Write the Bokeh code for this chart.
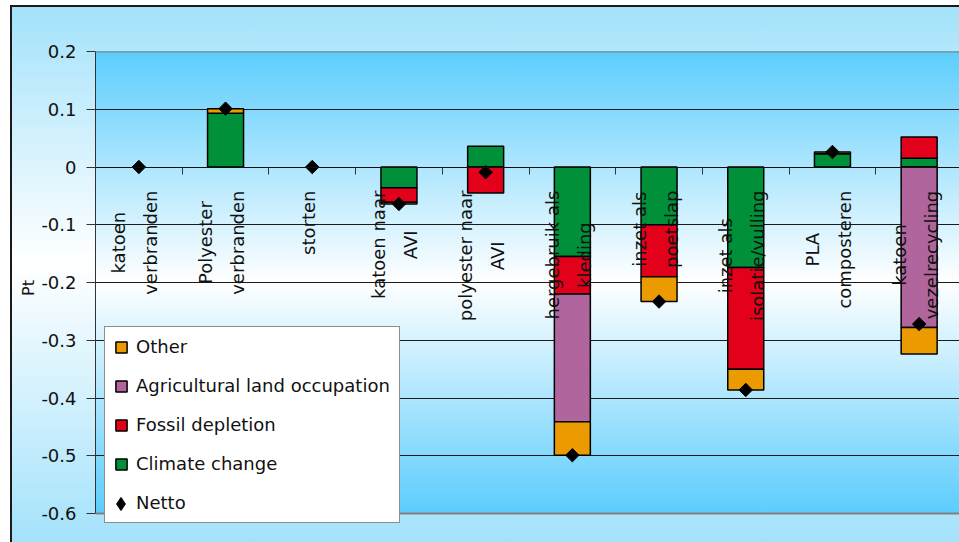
import math

from bokeh.core.properties import value
from bokeh.embed import file_html
from bokeh.models import ColumnDataSource, FixedTicker, Legend, LegendItem, Range1d, Span
from bokeh.plotting import figure
from bokeh.resources import INLINE

# ---------------------------------------------------------------------------
# Data (Pt per scenario, split by impact category)
# ---------------------------------------------------------------------------
categories = [
    "katoen\nverbranden",
    "Polyester\nverbranden",
    "storten",
    "katoen naar\nAVI",
    "polyester naar\nAVI",
    "hergebruik als\nkleding",
    "inzet als\npoetslap",
    "inzet als\nisolatie/vulling",
    "PLA\ncomposteren",
    "katoen\nvezelrecycling",
]

climate_change = [0.0, 0.093, 0.0, -0.036, 0.036, -0.155, -0.100, -0.174, 0.023, 0.015]
fossil_depletion = [0.0, 0.0, 0.0, -0.025, -0.045, -0.065, -0.090, -0.176, 0.0, 0.037]
agricultural_land_occupation = [0.0, 0.0, 0.0, 0.0, 0.0, -0.221, 0.0, 0.0, 0.0, -0.278]
other = [0.0, 0.008, 0.0, -0.003, 0.0, -0.058, -0.043, -0.036, 0.003, -0.046]
netto = [0.0, 0.101, 0.0, -0.064, -0.009, -0.499, -0.233, -0.386, 0.026, -0.272]

y_ticks = [-0.6, -0.5, -0.4, -0.3, -0.2, -0.1, 0.0, 0.1, 0.2]
y_tick_labels = ["-0.6", "-0.5", "-0.4", "-0.3", "-0.2", "-0.1", "0", "0.1", "0.2"]

# stacking order: first series sits next to the zero line
series = [
    ("Climate change", climate_change, "#00903a"),
    ("Fossil depletion", fossil_depletion, "#e2001a"),
    ("Agricultural land occupation", agricultural_land_occupation, "#b0659d"),
    ("Other", other, "#eb9a00"),
]

# ---------------------------------------------------------------------------
# Geometry
# ---------------------------------------------------------------------------
W, H = 959, 542
FRAME_LEFT, FRAME_TOP, FRAME_BOTTOM = 95, 51, 18
PLOT_AREA_H = 462            # px from the 0.2 line down to the -0.6 line
CAT_PX = 86.7
frame_w = W - FRAME_LEFT
frame_h = H - FRAME_TOP - FRAME_BOTTOM
Y_MIN, Y_MAX = -0.6, 0.2
px_per_unit = PLOT_AREA_H / (Y_MAX - Y_MIN)
extra_below = frame_h - PLOT_AREA_H   # frame continues a little under -0.6 for the legend

FONT = "DejaVu Sans"
FONT_PX = 18
LABEL_GAP = 23.5     # px between the zero line and the end of the category text
LINE_PITCH = 32.0    # px between the two lines of a category label
LABEL_SHIFT = -4.0   # px, category text sits slightly left of the bar centre

# DejaVu Sans advance widths (em) for measuring the category labels
ADVANCE = {
    " ": 0.318, "/": 0.337, "A": 0.684, "I": 0.295, "L": 0.557, "P": 0.603, "V": 0.684,
    "a": 0.613, "b": 0.635, "c": 0.550, "d": 0.635, "e": 0.615, "f": 0.352, "g": 0.635,
    "h": 0.634, "i": 0.278, "j": 0.278, "k": 0.579, "l": 0.278, "m": 0.974, "n": 0.634,
    "o": 0.612, "p": 0.635, "r": 0.411, "s": 0.521, "t": 0.392, "u": 0.634, "v": 0.592,
    "y": 0.592, "z": 0.525,
}


def text_width(s, size=FONT_PX):
    return sum(ADVANCE.get(ch, 0.6) for ch in s) * size


# ---------------------------------------------------------------------------
# Figure
# ---------------------------------------------------------------------------
p = figure(
    width=W, height=H,
    output_backend="svg", toolbar_location=None, title=None,
    x_range=Range1d(0, frame_w / CAT_PX),
    y_range=Range1d(Y_MIN - extra_below / px_per_unit, Y_MAX),
    min_border_left=FRAME_LEFT, min_border_top=FRAME_TOP,
    min_border_bottom=FRAME_BOTTOM, min_border_right=0,
)
p.border_fill_color = None
p.background_fill_color = None
p.outline_line_color = None

# chart area and plot area fills (vertical gradients) plus the chart border
p.styles = {
    "background": ", ".join([
        "linear-gradient(#1a1a1a, #1a1a1a) 10px 5px / 2px 100% no-repeat",
        "linear-gradient(#1a1a1a, #1a1a1a) 10px 5px / 100% 2px no-repeat",
        f"linear-gradient(to bottom, #5ccdfd 0%, #ffffff 50%, #5ccdfd 100%) "
        f"{FRAME_LEFT}px {FRAME_TOP}px / {frame_w}px {PLOT_AREA_H}px no-repeat",
        "linear-gradient(to bottom, #a3e2fb 0%, #ffffff 48%, #a3e2fb 100%) "
        "11px 6px / 948px 536px no-repeat",
        "#ffffff",
    ])
}

# value axis
p.yaxis.ticker = FixedTicker(ticks=y_ticks)
p.yaxis.bounds = (Y_MIN, Y_MAX)
p.yaxis.major_label_overrides = dict(zip(y_ticks, y_tick_labels))
p.yaxis.major_label_text_font = FONT
p.yaxis.major_label_text_font_size = f"{FONT_PX}px"
p.yaxis.major_label_text_color = "#111111"
p.yaxis.major_label_standoff = 10
p.yaxis.major_tick_out = 9
p.yaxis.major_tick_in = 0
p.yaxis.minor_tick_out = 0
p.yaxis.minor_tick_in = 0
p.yaxis.major_tick_line_color = "#333333"
p.yaxis.axis_line_color = "#333333"
p.yaxis.axis_label = "Pt"
p.yaxis.axis_label_text_font = FONT
p.yaxis.axis_label_text_font_size = "16px"
p.yaxis.axis_label_text_font_style = "normal"
p.yaxis.axis_label_text_color = "#111111"
p.yaxis.axis_label_standoff = 0

# category axis crossing at zero, ticks between categories
p.xaxis.ticker = FixedTicker(ticks=list(range(1, len(categories))))
p.xaxis.major_label_overrides = {t: "" for t in range(1, len(categories))}
p.xaxis.major_label_text_font_size = "0px"
p.xaxis.major_label_standoff = 0
p.xaxis.fixed_location = 0
p.xaxis.major_tick_out = 7
p.xaxis.major_tick_in = 0
p.xaxis.minor_tick_out = 0
p.xaxis.minor_tick_in = 0
p.xaxis.axis_line_color = "#111111"
p.xaxis.major_tick_line_color = "#333333"

p.xgrid.visible = False
p.ygrid.ticker = FixedTicker(ticks=[t for t in y_ticks if Y_MIN < t < Y_MAX])
p.ygrid.grid_line_color = "#1a1a1a"
p.ygrid.grid_line_width = 1

for edge in (Y_MIN, Y_MAX):
    p.add_layout(Span(location=edge, dimension="width", line_color="#808080", line_width=2))

# ---------------------------------------------------------------------------
# Stacked bars (positive and negative parts stacked separately)
# ---------------------------------------------------------------------------
xs = [i + 0.5 for i in range(len(categories))]
pos_base = [0.0] * len(categories)
neg_base = [0.0] * len(categories)
bar_renderers = {}
for name, vals, color in series:
    bx, btop, bbottom = [], [], []
    for i, v in enumerate(vals):
        if v == 0:
            continue
        if v > 0:
            bottom, top = pos_base[i], pos_base[i] + v
            pos_base[i] = top
        else:
            top, bottom = neg_base[i], neg_base[i] + v
            neg_base[i] = bottom
        bx.append(xs[i])
        btop.append(top)
        bbottom.append(bottom)
    src = ColumnDataSource(dict(x=bx, top=btop, bottom=bbottom))
    bar_renderers[name] = p.vbar(
        x="x", top="top", bottom="bottom", width=0.415, source=src,
        fill_color=color, line_color="#000000", line_width=1.5,
    )

# ---------------------------------------------------------------------------
# Category labels: vertical, lines centred on each other below the zero line
# ---------------------------------------------------------------------------
lab_x, lab_y, lab_text = [], [], []
for i, label in enumerate(categories):
    lines = label.split("\n")
    longest = max(text_width(s) for s in lines)
    y_center = -(LABEL_GAP + longest / 2) / px_per_unit
    for j, line in enumerate(lines):
        dx = ((j - (len(lines) - 1) / 2) * LINE_PITCH + LABEL_SHIFT) / CAT_PX
        lab_x.append(xs[i] + dx)
        lab_y.append(y_center)
        lab_text.append(line)

p.text(
    x=lab_x, y=lab_y, text=lab_text, angle=math.pi / 2,
    text_align="center", text_baseline="middle",
    text_font=value(FONT), text_font_size=f"{FONT_PX}px", text_color="#111111",
)

# net result markers
netto_r = p.scatter(
    x=xs, y=netto, marker="square", angle=math.pi / 4, size=9.5,
    fill_color="#000000", line_color="#000000",
)

# legend-only renderers for the "Netto" row (hidden in the plot itself)
netto_blank = p.scatter(x=xs, y=netto, marker="square", fill_alpha=0, line_alpha=0,
                        visible=False)
netto_key = p.scatter(x=xs, y=netto, marker="diamond", fill_color="#000000",
                      line_color="#000000", visible=False)

# ---------------------------------------------------------------------------
# Legend
# ---------------------------------------------------------------------------
legend = Legend(
    items=[
        LegendItem(label="Other", renderers=[bar_renderers["Other"]]),
        LegendItem(label="Agricultural land occupation",
                   renderers=[bar_renderers["Agricultural land occupation"]]),
        LegendItem(label="Fossil depletion", renderers=[bar_renderers["Fossil depletion"]]),
        LegendItem(label="Climate change", renderers=[bar_renderers["Climate change"]]),
        LegendItem(label="Netto", renderers=[netto_blank]),
    ],
    location=(9, 1),
    label_text_font=FONT,
    label_text_font_size=f"{FONT_PX}px",
    label_text_color="#111111",
    label_height=20,
    label_standoff=8,
    glyph_width=14,
    glyph_height=14,
    spacing=18,
    padding=9,
    margin=0,
    border_line_color="#1a1a1a",
    border_line_width=1,
    background_fill_color="#ffffff",
    background_fill_alpha=1.0,
)
p.add_layout(legend)

# larger diamond key drawn over the "Netto" row
netto_legend = Legend(
    items=[LegendItem(label=" ", renderers=[netto_key])],
    location=(8.5, 4),
    glyph_width=33,
    glyph_height=33,
    label_standoff=0,
    label_width=0,
    label_height=0,
    padding=0,
    margin=0,
    border_line_color=None,
    background_fill_alpha=0.0,
)
p.add_layout(netto_legend)

open("out.html", "w").write(file_html(p, INLINE))
